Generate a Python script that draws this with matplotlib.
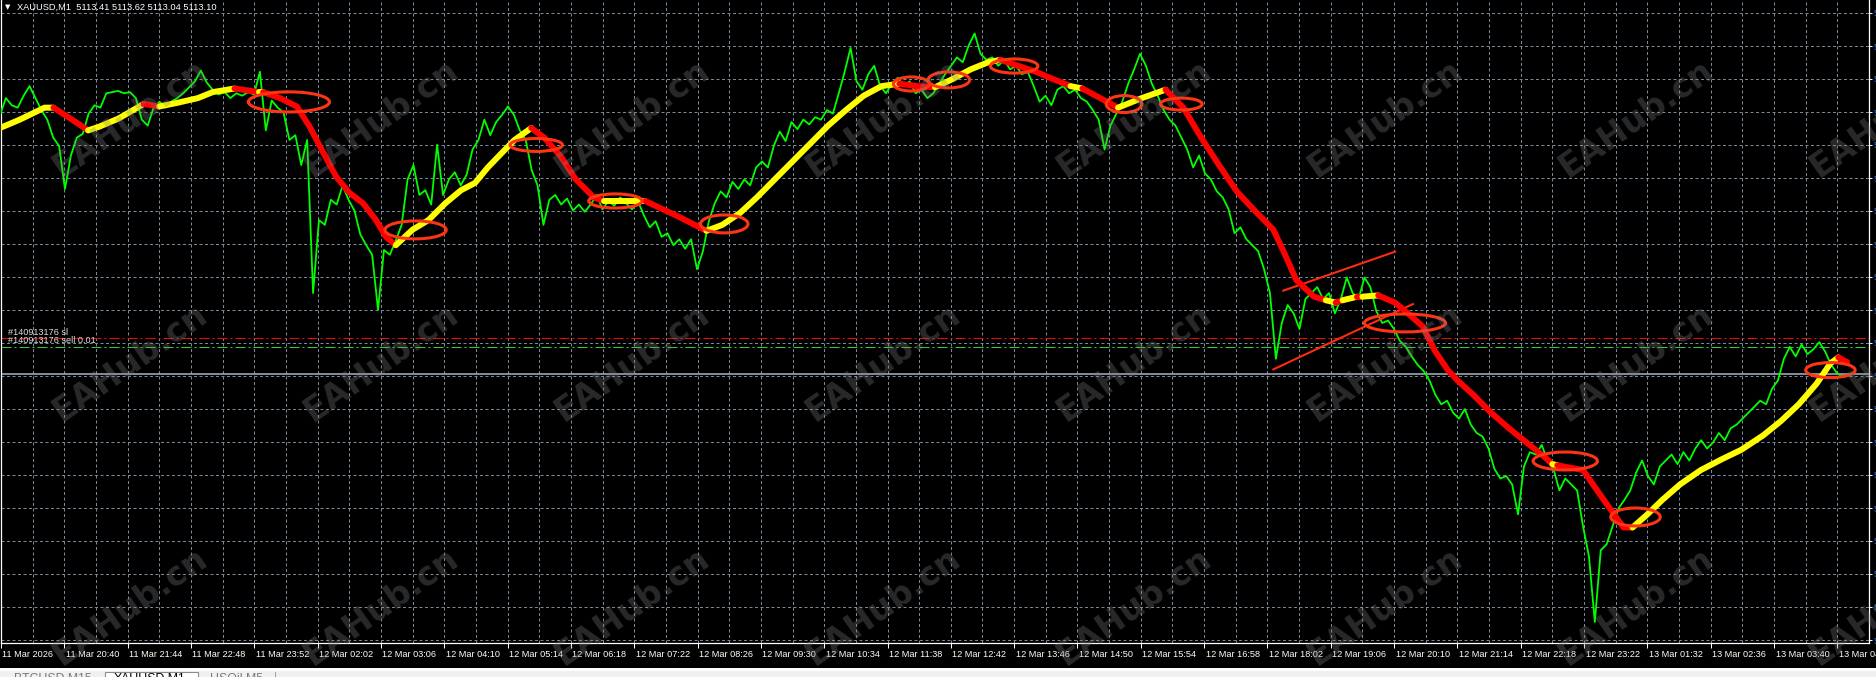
import numpy as np
import matplotlib
matplotlib.use("Agg")
import matplotlib.pyplot as plt
import matplotlib.transforms as mtransforms
from matplotlib.patches import Ellipse, Rectangle

plt.rcParams['font.family'] = ['Liberation Sans', 'DejaVu Sans']

# =========================================================
# DATA
# =========================================================

symbol = "XAUUSD,M1"
last_ohlc = [5113.41, 5113.62, 5113.04, 5113.10]

# close prices, one value every 6 M1 bars
bar_step = 5.97
close = [
    5221.4, 5228.4, 5225.4, 5224.4, 5229.4, 5233.4, 5228.4, 5223.4, 5219.4, 5211.9,
    5208.4, 5190.4, 5204.4, 5211.9, 5213.4, 5221.9, 5225.4, 5224.4, 5230.4, 5230.9,
    5231.4, 5230.4, 5230.9, 5228.4, 5219.4, 5216.9, 5224.4, 5226.9, 5224.4, 5226.9,
    5228.4, 5230.4, 5232.9, 5235.4, 5239.9, 5234.9, 5231.9, 5229.9, 5230.9, 5228.4,
    5230.4, 5229.4, 5230.9, 5229.9, 5239.4, 5214.9, 5227.4, 5224.4, 5222.4, 5210.9,
    5212.9, 5200.4, 5210.9, 5146.9, 5177.4, 5175.4, 5185.9, 5183.9, 5191.9, 5185.9,
    5181.4, 5171.4, 5166.9, 5162.9, 5139.9, 5164.9, 5162.9, 5168.9, 5175.4, 5194.4,
    5200.4, 5187.9, 5189.9, 5183.9, 5208.9, 5187.9, 5194.4, 5197.4, 5191.9, 5196.4,
    5206.9, 5210.9, 5219.4, 5212.9, 5218.4, 5221.4, 5224.9, 5221.4, 5214.9, 5210.9,
    5198.4, 5191.9, 5175.4, 5185.9, 5187.9, 5183.9, 5186.4, 5181.4, 5183.9, 5180.9,
    5183.9, 5187.9, 5181.9, 5185.4, 5183.4, 5186.9, 5184.4, 5181.9, 5185.4, 5179.4,
    5174.4, 5176.9, 5170.4, 5171.9, 5166.9, 5169.4, 5165.4, 5169.4, 5156.9, 5164.4,
    5176.9, 5184.4, 5189.4, 5186.9, 5193.4, 5190.4, 5194.4, 5191.9, 5199.4, 5201.9,
    5199.4, 5208.4, 5214.4, 5210.4, 5218.4, 5215.4, 5219.4, 5217.4, 5220.4, 5219.4,
    5223.4, 5221.9, 5230.4, 5239.4, 5249.4, 5235.4, 5231.9, 5238.4, 5241.9, 5233.4,
    5230.4, 5234.4, 5236.9, 5233.4, 5235.4, 5230.4, 5231.9, 5228.4, 5230.4, 5234.4,
    5238.4, 5241.9, 5245.4, 5243.4, 5250.4, 5255.4, 5246.9, 5244.4, 5245.4, 5241.9,
    5244.4, 5240.4, 5241.9, 5238.4, 5239.4, 5233.4, 5226.9, 5229.4, 5225.4, 5231.9,
    5233.4, 5230.4, 5231.9, 5228.4, 5226.9, 5223.4, 5219.4, 5206.9, 5216.9, 5221.9,
    5226.9, 5234.4, 5240.4, 5246.9, 5241.9, 5234.4, 5229.4, 5223.4, 5219.4, 5216.9,
    5211.9, 5206.9, 5199.4, 5204.4, 5196.9, 5194.4, 5189.4, 5186.9, 5181.9, 5171.9,
    5174.4, 5169.4, 5166.9, 5164.4, 5156.9, 5146.9, 5119.4, 5134.4, 5141.9, 5138.4,
    5131.9, 5144.4, 5146.9, 5149.4, 5144.4, 5146.9, 5138.4, 5144.4, 5153.4, 5146.9,
    5144.4, 5153.4, 5149.4, 5139.4, 5134.4, 5135.4, 5131.9, 5126.9, 5124.4, 5120.4,
    5116.9, 5114.4, 5110.4, 5104.4, 5100.4, 5101.9, 5096.9, 5094.4, 5098.4, 5091.9,
    5088.4, 5086.9, 5081.9, 5073.4, 5069.4, 5070.4, 5066.9, 5054.4, 5074.4, 5080.4,
    5079.4, 5083.4, 5076.9, 5073.4, 5064.4, 5069.4, 5066.9, 5064.4, 5049.4, 5036.9,
    5009.4, 5039.4, 5041.9, 5049.4, 5056.9, 5060.4, 5064.4, 5071.9, 5076.9, 5070.4,
    5066.9, 5074.4, 5076.9, 5079.4, 5075.4, 5080.4, 5076.9, 5081.9, 5085.4, 5081.9,
    5084.4, 5088.4, 5085.4, 5090.4, 5091.9, 5094.4, 5096.9, 5099.4, 5101.9, 5100.4,
    5106.9, 5110.4, 5119.4, 5124.4, 5120.4, 5125.4, 5121.4, 5123.4, 5126.4, 5122.4,
    5116.9, 5113.4, 5111.9, 5113.1,
]

# moving average (bar, value) and trend flag of each segment (1 = up / yellow)
ma_bar = [
    0, 20, 45, 54, 71, 89, 100, 120, 145, 161,
    179, 200, 215, 237, 262, 266, 283, 300, 313, 327,
    340, 353, 367, 380, 390, 400, 417, 433, 450, 466,
    480, 493, 507, 520, 537, 550, 567, 582, 600, 610,
    631, 652, 670, 688, 714, 730, 748, 765, 783, 801,
    819, 837, 855, 873, 891, 909, 927, 945, 963, 981,
    999, 1011, 1029, 1047, 1064, 1082, 1094, 1112, 1130, 1154,
    1178, 1196, 1214, 1232, 1250, 1268, 1287, 1300, 1310, 1328,
    1340, 1350, 1357, 1372, 1377, 1393, 1410, 1423, 1438, 1450,
    1463, 1473, 1489, 1507, 1525, 1543, 1561, 1569, 1574, 1600,
    1621, 1641, 1650, 1665, 1680, 1698, 1719, 1740, 1760, 1782,
    1800, 1818, 1836, 1850, 1858, 1867,
]
ma_val = [
    5215.9, 5219.4, 5224.4, 5224.4, 5219.9, 5214.9, 5216.4, 5219.9, 5225.9, 5224.9,
    5226.4, 5228.4, 5230.9, 5232.4, 5230.9, 5230.9, 5228.4, 5224.9, 5216.4, 5205.4,
    5195.4, 5188.9, 5184.4, 5177.4, 5170.4, 5166.9, 5173.4, 5177.4, 5184.4, 5189.9,
    5192.9, 5199.4, 5205.4, 5210.9, 5215.9, 5211.9, 5203.9, 5194.4, 5186.9, 5185.4,
    5185.4, 5185.4, 5181.9, 5178.4, 5172.9, 5175.4, 5180.4, 5186.9, 5194.4, 5201.9,
    5209.4, 5216.9, 5223.4, 5229.4, 5233.4, 5234.4, 5233.4, 5232.9, 5236.4, 5240.4,
    5243.4, 5244.4, 5241.9, 5239.4, 5236.4, 5233.4, 5232.4, 5228.4, 5224.4, 5228.4,
    5231.9, 5224.4, 5211.9, 5200.4, 5189.4, 5181.4, 5173.4, 5161.9, 5152.4, 5145.4,
    5143.9, 5142.9, 5143.9, 5145.4, 5145.4, 5145.9, 5142.9, 5138.4, 5132.9, 5122.9,
    5114.9, 5110.4, 5104.4, 5096.9, 5090.4, 5084.4, 5078.4, 5075.4, 5074.9, 5072.9,
    5060.4, 5048.9, 5048.9, 5054.4, 5060.4, 5066.9, 5072.9, 5077.4, 5081.4, 5087.4,
    5093.4, 5100.4, 5109.0, 5117.5, 5120.0, 5118.0,
]
ma_up = [
    1, 1, 1, 0, 0, 1, 1, 1, 0, 1,
    1, 1, 1, 0, 1, 0, 0, 0, 0, 0,
    0, 0, 0, 0, 0, 1, 1, 1, 1, 1,
    1, 1, 1, 1, 0, 0, 0, 0, 0, 1,
    1, 0, 0, 0, 1, 1, 1, 1, 1, 1,
    1, 1, 1, 1, 1, 0, 0, 1, 1, 1,
    1, 0, 0, 0, 0, 1, 0, 0, 1, 1,
    0, 0, 0, 0, 0, 0, 0, 0, 0, 0,
    1, 0, 1, 0, 1, 0, 0, 0, 0, 0,
    0, 0, 0, 0, 0, 0, 0, 1, 0, 0,
    0, 0, 1, 1, 1, 1, 1, 1, 1, 1,
    1, 1, 1, 1, 0,
]

time_labels = [
    "11 Mar 2026", "11 Mar 20:40", "11 Mar 21:44", "11 Mar 22:48", "11 Mar 23:52",
    "12 Mar 02:02", "12 Mar 03:06", "12 Mar 04:10", "12 Mar 05:14", "12 Mar 06:18",
    "12 Mar 07:22", "12 Mar 08:26", "12 Mar 09:30", "12 Mar 10:34", "12 Mar 11:38",
    "12 Mar 12:42", "12 Mar 13:46", "12 Mar 14:50", "12 Mar 15:54", "12 Mar 16:58",
    "12 Mar 18:02", "12 Mar 19:06", "12 Mar 20:10", "12 Mar 21:14", "12 Mar 22:18",
    "12 Mar 23:22", "13 Mar 01:32", "13 Mar 02:36", "13 Mar 03:40", "13 Mar 04:44",
]

# hand drawn ellipses: centre bar, centre price, width (bars), height (price)
ell_bar = [292, 420, 542, 622, 732, 921, 959, 1025, 1136, 1194, 1420, 1582, 1653, 1850]
ell_price = [5226.8, 5173.3, 5208.8, 5185.4, 5175.8, 5234.3, 5236.0, 5241.8,
             5225.9, 5225.9, 5134.4, 5076.7, 5053.3, 5114.7]
ell_w = [82, 62, 53, 54, 48, 36, 42, 48, 36, 42, 82, 65, 50, 50]
ell_h = [8.4, 7.5, 5.4, 5.9, 7.5, 5.9, 6.7, 5.9, 7.1, 5.0, 7.5, 7.5, 7.5, 6.3]

# triangle trend lines
trend_bars = [(1297, 1410), (1287, 1428)]
trend_prices = [(5147.9, 5164.2), (5115.0, 5142.3)]

ticket = "#140913176"
sl_price = 5128.1
entry_price = 5124.4
bid_price = 5113.10

tabs = ["BTCUSD,M15", "XAUUSD,M1", "USOil,M5"]

# =========================================================
# LAYOUT
# =========================================================

W, H, DPI = 1876, 677, 100
price_top = 5269.4
price_per_px = 0.418
plot_bottom_px = 643
plot_right_px = 1869

fig = plt.figure(figsize=(W / DPI, H / DPI), dpi=DPI, facecolor="black")

ax = fig.add_axes([
    1 / W,
    1 - plot_bottom_px / H,
    (plot_right_px - 1) / W,
    plot_bottom_px / H,
])
ax.set_facecolor("black")
ax.set_xlim(1, plot_right_px)
ax.set_ylim(price_top - plot_bottom_px * price_per_px, price_top)

# grid / axes
x_major = np.arange(len(time_labels)) * 64 + 1
ax.set_xticks(x_major, time_labels)
ax.set_xticks(x_major + 32, minor=True)

y_grid = price_top - price_per_px * (13 + 33 * np.arange(20))
ax.set_yticks(y_grid, [f"{p:.2f}" for p in y_grid])
ax.yaxis.tick_right()

ax.grid(True, which="both", color="#778899", lw=0.72,
        linestyle=(0, (3, 2.5)), zorder=0)
ax.set_axisbelow(True)

ax.tick_params(axis="x", which="major", direction="out", length=3.5,
               width=0.72, color="white", labelcolor="white",
               labelsize=6.6, pad=1.2)
ax.tick_params(axis="x", which="minor", length=0)
ax.tick_params(axis="y", direction="out", length=2.2, width=0.72,
               color="white", labelcolor="#3a66c4", labelsize=6.6, pad=1.2)

offset = mtransforms.ScaledTranslation(1.5 / DPI, 0, fig.dpi_scale_trans)
for lbl in ax.get_xticklabels():
    lbl.set_horizontalalignment("left")
    lbl.set_transform(lbl.get_transform() + offset)

ax.spines["top"].set_visible(False)
for side in ["left", "bottom", "right"]:
    ax.spines[side].set_color("white")
    ax.spines[side].set_linewidth(0.9)

# =========================================================
# CHART
# =========================================================

bars = np.arange(len(close)) * bar_step
ax.plot(bars, close, color="#00ff00", lw=1.3, zorder=3)

# order lines
ax.axhline(sl_price, color="#ff0000", lw=0.72,
           linestyle=(0, (10, 3, 2, 3)), zorder=2)
ax.axhline(entry_price, color="#32cd32", lw=0.72,
           linestyle=(0, (10, 3, 2, 3)), zorder=2)
ax.axhline(bid_price, color="#aab4c4", lw=1.1, zorder=2)

ax.text(8, sl_price + 0.6, f"{ticket} sl", color="#dcdcdc",
        fontsize=6.6, va="bottom", ha="left", zorder=6)
ax.text(8, entry_price + 0.6, f"{ticket} sell 0.01", color="#dcdcdc",
        fontsize=6.6, va="bottom", ha="left", zorder=6)

# trend lines
for (b0, b1), (p0, p1) in zip(trend_bars, trend_prices):
    ax.plot([b0, b1], [p0, p1], color="#ff2a12", lw=1.5, zorder=4)

# moving average, coloured by trend
start = 0
for i in range(1, len(ma_up) + 1):
    if i == len(ma_up) or ma_up[i] != ma_up[start]:
        col = "#ffff00" if ma_up[start] else "#ff0000"
        ax.plot(ma_bar[start:i + 1], ma_val[start:i + 1], color=col,
                lw=4.3, solid_capstyle="round", solid_joinstyle="round",
                zorder=5)
        start = i

# ellipses
for b, p, w, h in zip(ell_bar, ell_price, ell_w, ell_h):
    ax.add_patch(Ellipse((b, p), w, h, fill=False, ec="#ff3414",
                         lw=2.2, zorder=6))

# =========================================================
# TEXTS / WATERMARK / TABS
# =========================================================

fig.text(5 / W, 1 - 7.5 / H, "\u25bc", color="white", fontsize=5,
         family="DejaVu Sans", va="center", ha="left")
fig.text(17 / W, 1 - 7.5 / H,
         f"{symbol}  " + " ".join(f"{v:.2f}" for v in last_ohlc),
         color="white", fontsize=6.7, va="center", ha="left")

for row_y in [118, 362, 606]:
    for k in range(8):
        fig.text((130 + 251 * k) / W, 1 - row_y / H, "EAHub.cn",
                 color="#808080", alpha=0.32, fontsize=24,
                 fontweight="bold", family="DejaVu Sans", rotation=35,
                 ha="center", va="center", zorder=10)


def fig_rect(x0, y0, x1, y1, **kw):
    fig.add_artist(Rectangle((x0 / W, 1 - y1 / H), (x1 - x0) / W,
                             (y1 - y0) / H, transform=fig.transFigure, **kw))


fig_rect(0, 668, W, 671, color="white", lw=0)
fig_rect(0, 671, W, H, color="#f0f0f0", lw=0)
fig_rect(105, 671.5, 198, H + 2, facecolor="white", edgecolor="#8a8a8a", lw=0.8)
fig_rect(275, 672, 276, H, color="#a0a0a0", lw=0)

tab_x = [14, 114, 210]
for tx, name in zip(tab_x, tabs):
    fig.text(tx / W, 1 - 672.5 / H, name, fontsize=8.8, va="top", ha="left",
             color="black" if name == symbol else "#7a7a7a")

fig.savefig("out.png", dpi=DPI, facecolor="black")
